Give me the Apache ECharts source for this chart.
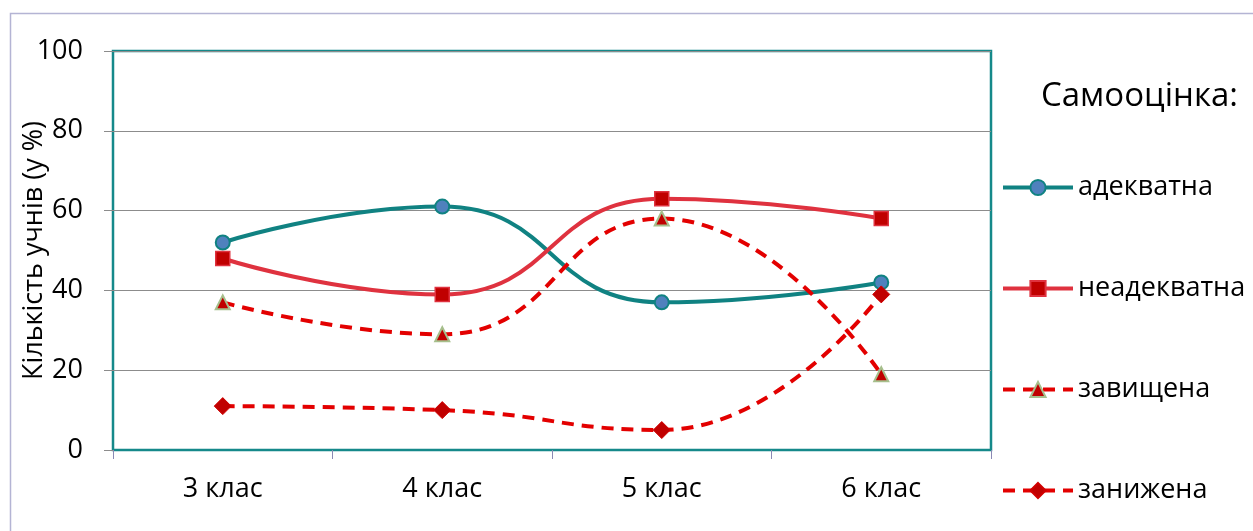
<!DOCTYPE html>
<html><head><meta charset="utf-8">
<script src="https://cdn.jsdelivr.net/npm/echarts@6/dist/echarts.min.js"></script>
<style>html,body{margin:0;padding:0;background:#fff}#c{width:1253px;height:531px}</style>
</head><body><div id="c"></div>
<script>
const categories = ['3 клас', '4 клас', '5 клас', '6 клас'];
const adekvatna = [52, 61, 37, 42];
const neadekvatna = [48, 39, 63, 58];
const zavyshchena = [37, 29, 58, 19];
const zanyzhena = [11, 10, 5, 39];
const yTicks = { min: 0, max: 100, interval: 20 };

const FONT = 'Open Sans';
const chart = echarts.init(document.getElementById('c'));
chart.setOption({
  backgroundColor: '#fff',
  animation: false,
  textStyle: { fontFamily: FONT },
  graphic: [{
    type: 'rect', left: 8, top: 11, z: -10,
    shape: { width: 1300, height: 600 },
    style: { fill: 'none', stroke: '#b4b4d4', lineWidth: 1.5 }
  }],
  title: {
    text: 'Самооцінка:', left: 1041, top: 77, padding: 0,
    textStyle: { fontFamily: FONT, fontSize: 33, lineHeight: 40, fontWeight: 'normal', color: '#000' }
  },
  legend: {
    orient: 'vertical', left: 1001, top: 174, padding: 0,
    itemWidth: 70, itemHeight: 19, itemGap: 74,
    lineStyle: { width: 4 },
    textStyle: { fontFamily: FONT, fontSize: 27, lineHeight: 27, color: '#000' },
    data: ['адекватна', 'неадекватна', 'завищена', 'занижена']
  },
  grid: { left: 113, right: 262, top: 51, bottom: 81, containLabel: false, outerBoundsMode: 'none', show: true, borderColor: '#15898a', borderWidth: 2.5, backgroundColor: 'transparent' },
  xAxis: {
    type: 'category', data: categories, boundaryGap: true,
    axisLine: { show: true, lineStyle: { color: '#15898a', width: 2 } },
    axisTick: { show: true, length: 9, lineStyle: { color: '#8a8ab4', width: 1 } },
    axisLabel: { fontFamily: FONT, fontSize: 27, color: '#000', margin: 26 }
  },
  yAxis: {
    type: 'value', min: yTicks.min, max: yTicks.max, interval: yTicks.interval,
    name: 'Кількість учнів (у %)', nameLocation: 'middle', nameGap: 65, nameMoveOverlap: false,
    nameTextStyle: { fontFamily: FONT, fontSize: 27, color: '#000' },
    axisLine: { show: false },
    axisTick: { show: true, length: 9, lineStyle: { color: '#8c8c8c', width: 1 } },
    axisLabel: { fontFamily: FONT, fontSize: 27, color: '#000', margin: 30 },
    splitLine: { lineStyle: { color: '#8c8c8c', width: 1 } }
  },
  series: [
    {
      name: 'адекватна', type: 'line', data: adekvatna, smooth: 0.5,
      symbol: 'circle', symbolSize: 14,
      lineStyle: { color: '#108282', width: 4 },
      itemStyle: { color: '#4f81bd', borderColor: '#108282', borderWidth: 2 }
    },
    {
      name: 'неадекватна', type: 'line', data: neadekvatna, smooth: 0.5,
      symbol: 'rect', symbolSize: 14,
      lineStyle: { color: '#df323f', width: 4 },
      itemStyle: { color: '#c00000', borderColor: '#df323f', borderWidth: 1.5 }
    },
    {
      name: 'завищена', type: 'line', data: zavyshchena, smooth: 0.5,
      symbol: 'triangle', symbolSize: 14,
      lineStyle: { color: '#e30000', width: 4, type: [12, 8] },
      itemStyle: { color: '#c00000', borderColor: '#a6bf8c', borderWidth: 2 }
    },
    {
      name: 'занижена', type: 'line', data: zanyzhena, smooth: 0.5,
      symbol: 'diamond', symbolSize: 17,
      lineStyle: { color: '#e30000', width: 4, type: [12, 8] },
      itemStyle: { color: '#c00000', borderColor: '#d00000', borderWidth: 1 }
    }
  ]
});
</script></body></html>
